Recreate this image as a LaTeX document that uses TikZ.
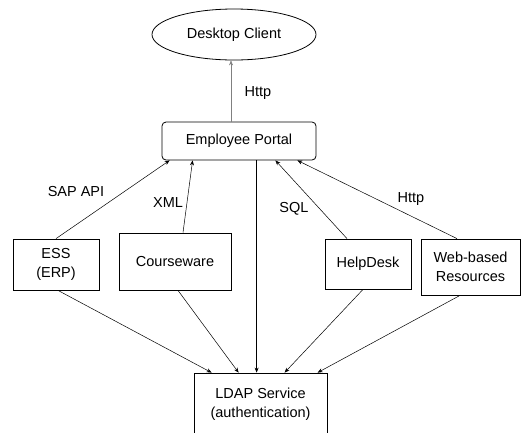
\documentclass[tikz,border=0pt]{standalone}
\usepackage{fontspec}
\setmainfont{Liberation Sans}
\usetikzlibrary{shapes.geometric,arrows.meta,calc}
\begin{document}
\begin{tikzpicture}[x=1pt,y=-1pt,
  box/.style={draw=black,line width=0.8pt,inner sep=0pt,align=center,font=\fontsize{14.5}{19}\selectfont},
  lbl/.style={inner sep=0pt,font=\fontsize{14.5}{17}\selectfont},
  conn/.style={line width=0.5pt,-{Stealth[length=5pt,width=4pt]}}]
\useasboundingbox (0,0) rectangle (521,432);
\begin{scope}
\clip (0,0) rectangle (521,432);
\node[box,ellipse,minimum width=164pt,minimum height=51pt] (dc) at (234,34.5) {Desktop Client};
\node[box,rounded corners=4pt,minimum width=154pt,minimum height=38pt] (portal) at (239,141) {Employee Portal};
\node[box,minimum width=86pt,minimum height=51pt] (ess) at (56,264.5) {ESS\\(ERP)};
\node[box,minimum width=112pt,minimum height=57pt] (cw) at (175,261.5) {Courseware};
\node[box,minimum width=86pt,minimum height=50pt] (hd) at (368,264) {HelpDesk};
\node[box,minimum width=99pt,minimum height=56pt] (web) at (470.5,267) {Web-based\\Resources};
\node[box,minimum width=133pt,minimum height=62pt] (ldap) at (260.5,404) {LDAP Service\\(authentication)};
\end{scope}

\draw[conn,draw=gray] ($(portal.north)+(-8,0)$) -- ($(dc.south)+(-3,0)$);
\draw[conn] (ess.north) -- ($(portal.south west)+(8,0)$);
\draw[conn] ($(cw.north)+(8,0)$) -- ($(portal.south west)+(31,0)$);
\draw[conn] ($(hd.north)+(-21,0)$) -- ($(portal.south east)+(-41,0)$);
\draw[conn] ($(web.north)+(-13.5,0)$) -- ($(portal.south east)+(-19,0)$);

\draw[conn] ($(ess.south)+(2,0)$) -- ($(ldap.north west)+(18,0)$);
\draw[conn] ($(cw.south)+(3,0)$) -- ($(ldap.north west)+(45,0)$);
\draw[conn] ($(portal.south west)+(95,0)$) -- ($(ldap.north west)+(63,0)$);
\draw[conn] ($(hd.south)+(-5,0)$) -- ($(ldap.north west)+(91,0)$);
\draw[conn] ($(web.south)+(-10.5,0)$) -- ($(ldap.north west)+(124,0)$);

\node[lbl] (l1) at (258,93) {Http};
\node[lbl] (l2) at (76,192) {SAP API};
\node[lbl] (l3) at (168,203) {XML};
\node[lbl] (l4) at (294,209) {SQL};
\node[lbl] (l5) at (411,199) {Http};
\end{tikzpicture}
\end{document}
